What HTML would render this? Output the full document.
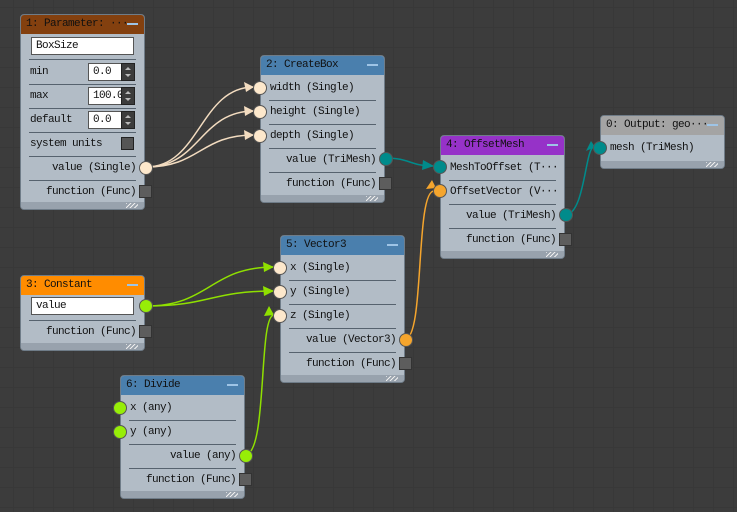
<!DOCTYPE html>
<html><head><meta charset="utf-8"><style>
*{margin:0;padding:0;box-sizing:border-box}
body{width:737px;height:512px;overflow:hidden;background-color:#3c3c3c;
background-image:linear-gradient(#383838 1px,transparent 1px),linear-gradient(90deg,#383838 1px,transparent 1px);
background-size:20px 20px;background-position:13px 7px;position:relative;
font-family:"Liberation Mono","Noto Sans CJK SC",monospace;font-size:11px;letter-spacing:-0.6px;color:#111}
.n{position:absolute;width:125px;background:#b2bcc6;border:1px solid #6f7c88;border-radius:4px;overflow:visible}
.h{height:19px;line-height:19px;padding-left:5px;color:#111;border-radius:3px 3px 0 0;position:relative;font-size:11px;white-space:nowrap}
.h:after{content:"";position:absolute;right:6px;top:8px;width:11px;height:2px;background:#9ec4e6}
.r{position:absolute;left:0;width:125px;height:24px;line-height:24px;white-space:nowrap}
.sep{position:absolute;left:8px;right:8px;height:1px;background:#56626e}
.in{padding-left:9px}
.out{text-align:right;padding-right:10px}
.ft{position:absolute;left:0;right:0;bottom:0;height:7px;background:#98a2ad;border-radius:0 0 3px 3px}
.ft:after{content:"";position:absolute;right:6px;top:1px;width:12px;height:5px;background:repeating-linear-gradient(135deg,#eee 0 1px,transparent 1px 3px)}
.p{position:absolute;width:14px;height:14px;border-radius:50%;border:1px solid #555}
.sq{position:absolute;width:13px;height:13px;background:#5d5d5d;border:1px solid #333}
.tb{position:absolute;background:#fff;border:1px solid #555;height:18px;line-height:16px;padding-left:4px;overflow:hidden;white-space:nowrap}
.sp{position:absolute;width:14px;height:18px;background:#3c3c3c;border:1px solid #222}
.sp:before{content:"";position:absolute;left:3px;top:3px;border:3px solid transparent;border-bottom:3px solid #bbb;border-top:0}
.sp:after{content:"";position:absolute;left:3px;top:10px;border:3px solid transparent;border-top:3px solid #bbb;border-bottom:0}
.cb{position:absolute;width:13px;height:13px;background:#555;border:1px solid #222}
</style></head><body>
<svg width="737" height="512" style="position:absolute;left:0;top:0">
<g fill="none" stroke-width="1.5">
<path d="M146 167 C200 167 200 87 254 87" stroke="#f3dcc0"/>
<path d="M146 167 C200 167 200 111 254 111" stroke="#f3dcc0"/>
<path d="M146 167 C200 167 200 135 254 135" stroke="#f3dcc0"/>
<path d="M385 158 C410 158 410 166 433 166" stroke="#008b8b"/>
<path d="M565 215 C585 215 585 147 594 147" stroke="#008b8b"/>
<path d="M146 306 C210 306 210 267 274 267" stroke="#8fe000"/>
<path d="M146 306 C210 306 210 291 274 291" stroke="#8fe000"/>
<path d="M245 455 C268 455 258 315 274 315" stroke="#8fe000"/>
<path d="M405 339 C425 339 415 191 434 191" stroke="#f5a52d"/>
</g>
<g>
<polygon points="254,87 244,82 246,92" fill="#f3dcc0"/>
<polygon points="254,111 244,106 245,116" fill="#f3dcc0"/>
<polygon points="254,135 244,130 245,140" fill="#f3dcc0"/>
<polygon points="434,166 423,160 422,170" fill="#008b8b"/>
<polygon points="595,147 586,151 591,141" fill="#008b8b"/>
<polygon points="274,267 263,262 264,272" fill="#8fe000"/>
<polygon points="274,291 263,286 264,296" fill="#8fe000"/>
<polygon points="274,315 264,316 269,306" fill="#8fe000"/>
<polygon points="436,188 426,189 432,180" fill="#f5a52d"/>
</g>
</svg>

<div class="n" style="left:20px;top:14px;height:196px">
<div class="h" style="background:#83400f">1: Parameter: ···</div>
<div class="tb" style="left:10px;top:22px;width:103px">BoxSize</div>
<div class="sep" style="top:44px"></div>
<div class="r in" style="top:45px">min</div><div class="tb" style="left:67px;top:48px;width:34px">0.0</div><div class="sp" style="left:100px;top:48px"></div>
<div class="sep" style="top:69px"></div>
<div class="r in" style="top:69px">max</div><div class="tb" style="left:67px;top:72px;width:34px">100.0</div><div class="sp" style="left:100px;top:72px"></div>
<div class="sep" style="top:93px"></div>
<div class="r in" style="top:93px">default</div><div class="tb" style="left:67px;top:96px;width:34px">0.0</div><div class="sp" style="left:100px;top:96px"></div>
<div class="sep" style="top:117px"></div>
<div class="r in" style="top:117px">system units</div><div class="cb" style="left:100px;top:122px"></div>
<div class="sep" style="top:141px"></div>
<div class="r out" style="top:141px">value (Single)</div><div class="p" style="left:118px;top:146px;background:#fde8cc"></div>
<div class="sep" style="top:165px"></div>
<div class="r out" style="top:165px">function (Func)</div><div class="sq" style="left:118px;top:170px"></div>
<div class="ft"></div>
</div>

<div class="n" style="left:260px;top:55px;height:148px">
<div class="h" style="background:#4a7fad">2: CreateBox</div>
<div class="r in" style="top:20px">width (Single)</div><div class="p" style="left:-8px;top:25px;background:#fde8cc"></div>
<div class="sep" style="top:44px"></div>
<div class="r in" style="top:44px">height (Single)</div><div class="p" style="left:-8px;top:49px;background:#fde8cc"></div>
<div class="sep" style="top:68px"></div>
<div class="r in" style="top:68px">depth (Single)</div><div class="p" style="left:-8px;top:73px;background:#fde8cc"></div>
<div class="sep" style="top:92px"></div>
<div class="r out" style="top:92px">value (TriMesh)</div><div class="p" style="left:118px;top:96px;background:#008b8b"></div>
<div class="sep" style="top:116px"></div>
<div class="r out" style="top:116px">function (Func)</div><div class="sq" style="left:118px;top:121px"></div>
<div class="ft"></div>
</div>

<div class="n" style="left:440px;top:135px;height:124px">
<div class="h" style="background:#9632c8">4: OffsetMesh</div>
<div class="r in" style="top:20px">MeshToOffset (T···</div><div class="p" style="left:-8px;top:24px;background:#008b8b"></div>
<div class="sep" style="top:44px"></div>
<div class="r in" style="top:44px">OffsetVector (V···</div><div class="p" style="left:-8px;top:48px;background:#f5a52d"></div>
<div class="sep" style="top:68px"></div>
<div class="r out" style="top:68px">value (TriMesh)</div><div class="p" style="left:118px;top:72px;background:#008b8b"></div>
<div class="sep" style="top:92px"></div>
<div class="r out" style="top:92px">function (Func)</div><div class="sq" style="left:118px;top:97px"></div>
<div class="ft"></div>
</div>

<div class="n" style="left:600px;top:115px;height:54px">
<div class="h" style="background:#a4a4a4">0: Output: geo···</div>
<div class="r in" style="top:20px">mesh (TriMesh)</div><div class="p" style="left:-8px;top:25px;background:#008b8b"></div>
<div class="ft"></div>
</div>

<div class="n" style="left:20px;top:275px;height:76px">
<div class="h" style="background:#ff8c00">3: Constant</div>
<div class="tb" style="left:10px;top:21px;width:103px">value</div>
<div class="sep" style="top:44px"></div>
<div class="p" style="left:118px;top:23px;background:#97ee08"></div>
<div class="r out" style="top:44px">function (Func)</div><div class="sq" style="left:118px;top:49px"></div>
<div class="ft"></div>
</div>

<div class="n" style="left:280px;top:235px;height:148px">
<div class="h" style="background:#4a7fad">5: Vector3</div>
<div class="r in" style="top:20px">x (Single)</div><div class="p" style="left:-8px;top:25px;background:#fde8cc"></div>
<div class="sep" style="top:44px"></div>
<div class="r in" style="top:44px">y (Single)</div><div class="p" style="left:-8px;top:49px;background:#fde8cc"></div>
<div class="sep" style="top:68px"></div>
<div class="r in" style="top:68px">z (Single)</div><div class="p" style="left:-8px;top:73px;background:#fde8cc"></div>
<div class="sep" style="top:92px"></div>
<div class="r out" style="top:92px">value (Vector3)</div><div class="p" style="left:118px;top:97px;background:#f5a52d"></div>
<div class="sep" style="top:116px"></div>
<div class="r out" style="top:116px">function (Func)</div><div class="sq" style="left:118px;top:121px"></div>
<div class="ft"></div>
</div>

<div class="n" style="left:120px;top:375px;height:124px">
<div class="h" style="background:#4a7fad">6: Divide</div>
<div class="r in" style="top:20px">x (any)</div><div class="p" style="left:-8px;top:25px;background:#97ee08"></div>
<div class="sep" style="top:44px"></div>
<div class="r in" style="top:44px">y (any)</div><div class="p" style="left:-8px;top:49px;background:#97ee08"></div>
<div class="sep" style="top:68px"></div>
<div class="r out" style="top:68px">value (any)</div><div class="p" style="left:118px;top:73px;background:#97ee08"></div>
<div class="sep" style="top:92px"></div>
<div class="r out" style="top:92px">function (Func)</div><div class="sq" style="left:118px;top:97px"></div>
<div class="ft"></div>
</div>
</body></html>
